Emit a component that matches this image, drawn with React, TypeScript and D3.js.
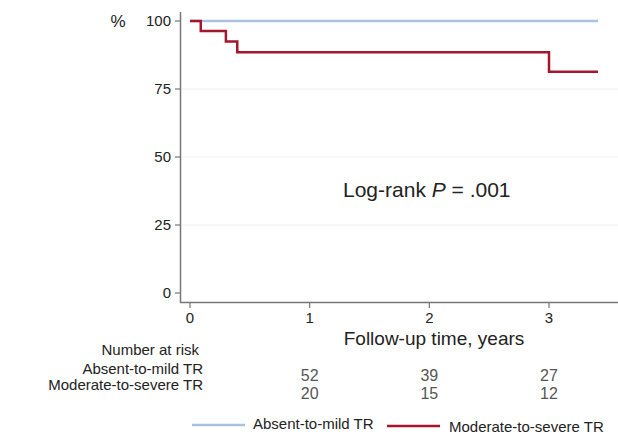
import React from "react";
import * as d3 from "d3";

// survival curves
const mildTimes = [0, 3.41];
const mildSurv = [100, 100];
const severeTimes = [0, 0.09, 0.3, 0.395, 3.0, 3.41];
const severeSurv = [100, 96.3, 92.5, 88.5, 81.3, 81.3];

const yTicks = [0, 25, 50, 75, 100];
const xTicks = [0, 1, 2, 3];

const riskGroups = ["Absent-to-mild TR", "Moderate-to-severe TR"];
const riskTimes = [1, 2, 3];
const riskMild = [52, 39, 27];
const riskSevere = [20, 15, 12];

const seriesNames = ["Absent-to-mild TR", "Moderate-to-severe TR"];
const seriesColors = ["#a9c3dd", "#a3162e"];

export default function App() {
  const x = d3.scaleLinear().domain([0, 3]).range([190, 549]);
  const y = d3.scaleLinear().domain([0, 100]).range([293, 21]);

  const line = d3
    .line<[number, number]>()
    .x((d) => x(d[0]))
    .y((d) => y(d[1]))
    .curve(d3.curveStepAfter);

  const mild = mildTimes.map((t, i) => [t, mildSurv[i]] as [number, number]);
  const severe = severeTimes.map((t, i) => [t, severeSurv[i]] as [number, number]);

  const font = "'Liberation Sans', Arial, sans-serif";
  const txt = "#222";

  return (
    <svg
      width={618}
      height={436}
      style={{ position: "absolute", left: 0, top: 0, background: "#fff" }}
      fontFamily={font}
    >
      {/* gridlines */}
      {yTicks.slice(1, 4).map((t) => (
        <line key={"g" + t} x1={181} x2={618} y1={y(t)} y2={y(t)} stroke="#f0f0f0" strokeWidth={1} />
      ))}

      {/* y axis */}
      <line x1={180.5} x2={180.5} y1={12} y2={303} stroke="#777" strokeWidth={1.5} />
      {yTicks.map((t) => (
        <g key={"y" + t}>
          <line x1={175} x2={180} y1={y(t)} y2={y(t)} stroke="#777" strokeWidth={1.2} />
          <text x={171} y={y(t)} dy="0.35em" textAnchor="end" fontSize={15} fill={txt}>
            {t}
          </text>
        </g>
      ))}
      <text x={118} y={y(100)} dy="0.35em" textAnchor="middle" fontSize={17} fill={txt}>
        %
      </text>

      {/* x axis */}
      <line x1={180} x2={618} y1={302.5} y2={302.5} stroke="#777" strokeWidth={1.5} />
      {xTicks.map((t) => (
        <g key={"x" + t}>
          <line x1={x(t)} x2={x(t)} y1={303} y2={308} stroke="#777" strokeWidth={1.2} />
          <text x={x(t)} y={323} textAnchor="middle" fontSize={15} fill={txt}>
            {t}
          </text>
        </g>
      ))}
      <text x={434} y={345} textAnchor="middle" fontSize={19} fill={txt}>
        Follow-up time, years
      </text>

      {/* curves */}
      <path d={line(mild) ?? ""} fill="none" stroke={seriesColors[0]} strokeWidth={2.5} />
      <path d={line(severe) ?? ""} fill="none" stroke={seriesColors[1]} strokeWidth={2.5} />

      <text x={343} y={197} fontSize={21} fill={txt}>
        Log-rank <tspan fontStyle="italic">P</tspan> = .001
      </text>

      {/* number at risk */}
      <text x={199} y={355} textAnchor="end" fontSize={15} fill={txt}>
        Number at risk
      </text>
      {riskGroups.map((g, i) => (
        <text key={g} x={203} y={374 + i * 16} textAnchor="end" fontSize={15} fill={txt}>
          {g}
        </text>
      ))}
      {riskMild.map((v, i) => (
        <text key={"m" + i} x={x(riskTimes[i])} y={381} textAnchor="middle" fontSize={16} fill="#555">
          {v}
        </text>
      ))}
      {riskSevere.map((v, i) => (
        <text key={"s" + i} x={x(riskTimes[i])} y={399} textAnchor="middle" fontSize={16} fill="#555">
          {v}
        </text>
      ))}

      {/* legend */}
      <line x1={192} x2={245} y1={425} y2={425} stroke={seriesColors[0]} strokeWidth={2.5} />
      <text x={253} y={429} fontSize={15} fill={txt}>
        {seriesNames[0]}
      </text>
      <line x1={387} x2={440} y1={426} y2={426} stroke={seriesColors[1]} strokeWidth={2.5} />
      <text x={449} y={432} fontSize={15} fill={txt}>
        {seriesNames[1]}
      </text>
    </svg>
  );
}
